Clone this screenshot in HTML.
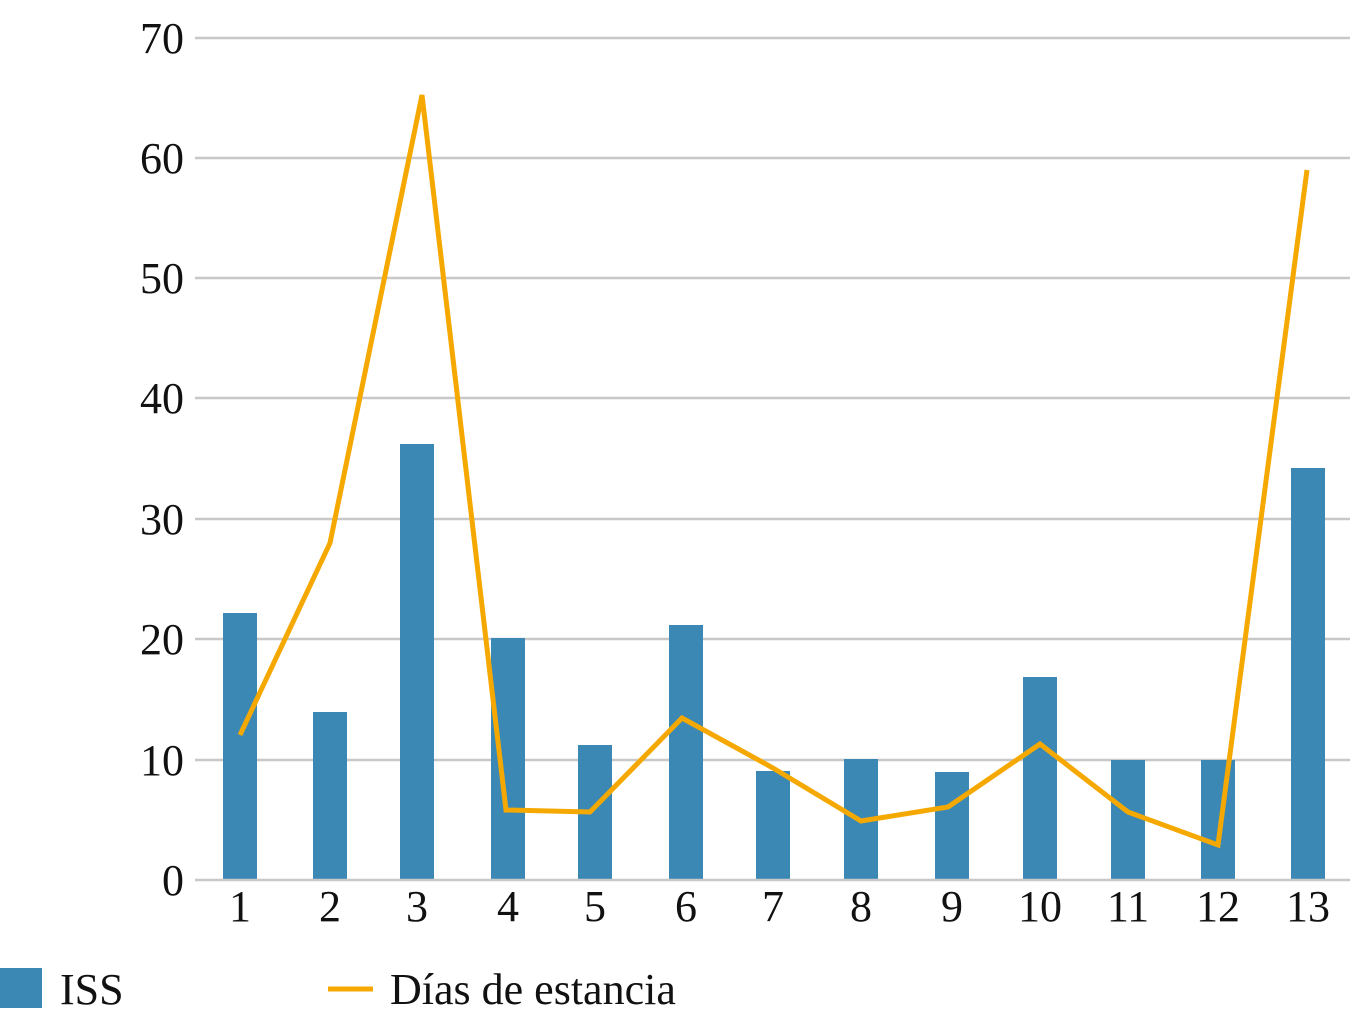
<!DOCTYPE html>
<html><head><meta charset="utf-8"><style>
html,body{margin:0;padding:0;background:#fff;}
svg{display:block;}
text{font-family:"Liberation Serif",serif;fill:#111;}
</style></head><body>
<svg width="1350" height="1024" viewBox="0 0 1350 1024" xmlns="http://www.w3.org/2000/svg">
<g stroke="#c8c8c8" stroke-width="2.5">
<line x1="195" y1="38" x2="1350" y2="38"/>
<line x1="195" y1="158" x2="1350" y2="158"/>
<line x1="195" y1="278" x2="1350" y2="278"/>
<line x1="195" y1="398" x2="1350" y2="398"/>
<line x1="195" y1="519" x2="1350" y2="519"/>
<line x1="195" y1="639" x2="1350" y2="639"/>
<line x1="195" y1="760" x2="1350" y2="760"/>
</g>
<g fill="#3b88b5">
<rect x="223" y="613" width="34" height="267"/>
<rect x="313" y="712" width="34" height="168"/>
<rect x="400" y="444" width="34" height="436"/>
<rect x="491" y="638" width="34" height="242"/>
<rect x="578" y="745" width="34" height="135"/>
<rect x="669" y="625" width="34" height="255"/>
<rect x="756" y="771" width="34" height="109"/>
<rect x="844" y="759" width="34" height="121"/>
<rect x="935" y="772" width="34" height="108"/>
<rect x="1023" y="677" width="34" height="203"/>
<rect x="1111" y="760" width="34" height="120"/>
<rect x="1201" y="760" width="34" height="120"/>
<rect x="1291" y="468" width="34" height="412"/>
</g>
<line x1="195" y1="880" x2="1350" y2="880" stroke="#c8c8c8" stroke-width="2.5"/>
<polyline fill="none" stroke="#f5a800" stroke-width="5" stroke-linejoin="miter" points="240,735 330,543 422,95 506,810 590,812 682,718 773,768 861,821 948,807 1040,744 1128,812 1218,845 1307,170"/>
<g font-size="44" text-anchor="end">
<text x="184" y="53">70</text>
<text x="184" y="173">60</text>
<text x="184" y="293">50</text>
<text x="184" y="413">40</text>
<text x="184" y="534">30</text>
<text x="184" y="654">20</text>
<text x="184" y="775">10</text>
<text x="184" y="895">0</text>
</g>
<g font-size="44" text-anchor="middle">
<text x="240" y="921">1</text>
<text x="330" y="921">2</text>
<text x="417" y="921">3</text>
<text x="508" y="921">4</text>
<text x="595" y="921">5</text>
<text x="686" y="921">6</text>
<text x="773" y="921">7</text>
<text x="861" y="921">8</text>
<text x="952" y="921">9</text>
<text x="1040" y="921">10</text>
<text x="1128" y="921">11</text>
<text x="1218" y="921">12</text>
<text x="1308" y="921">13</text>
</g>
<rect x="0" y="968" width="42" height="40" fill="#3b88b5"/>
<text x="60" y="1004" font-size="44">ISS</text>
<line x1="328" y1="989" x2="373" y2="989" stroke="#f5a800" stroke-width="5"/>
<text x="390" y="1004" font-size="44">Días de estancia</text>
</svg>
</body></html>
